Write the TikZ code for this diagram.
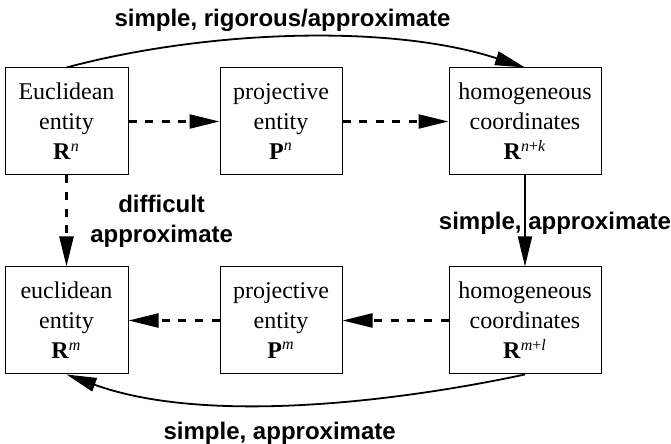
\documentclass[tikz,border=0pt]{standalone}
\usepackage{fontspec}
\setmainfont{Liberation Serif}
\newfontfamily\labelfont{Liberation Sans}
\usepackage{tikz}
\usetikzlibrary{positioning, arrows.meta}

\begin{document}
\begin{tikzpicture}[x=0.5pt, y=0.5pt,
                  box/.style={draw, line width=0.5pt, font=\fontsize{12}{15}\selectfont,
                              align=center, minimum height=53.5pt, inner sep=2pt},
                  lbl/.style={font=\labelfont\bfseries\fontsize{12}{15}\selectfont, align=center},
                  arr/.style={-{Triangle[length=15pt, width=7pt]}, line width=0.9pt},
                  darr/.style={arr, line width=1.1pt, dash pattern=on 4pt off 4.3pt},
                  node distance=45.5pt and 45.5pt,
            ]
            \useasboundingbox (0,0) rectangle (671,444);

            \node[box, minimum width=61.5pt] (euc) at (66.5,322.5) {Euclidean\\entity\\\textbf{R}\textsuperscript{\textit{n}}};
            \node[box, minimum width=61pt, right=of euc] (proj) {projective\\entity\\\textbf{P}\textsuperscript{\textit{n}}};
            \node[box, minimum width=76pt, right=53pt of proj] (hom) {homogeneous\\coordinates\\\textbf{R}\textsuperscript{\textit{n}+\textit{k}}};
            \node[box, minimum width=61.5pt, below=of euc] (euclow) {euclidean\\entity\\\textbf{R}\textsuperscript{\textit{m}}};
            \node[box, minimum width=61pt, below=of proj] (projlow) {projective\\entity\\\textbf{P}\textsuperscript{\textit{m}}};
            \node[box, minimum width=76pt, below=of hom] (homlow) {homogeneous\\coordinates\\\textbf{R}\textsuperscript{\textit{m}+\textit{l}}};

            \draw[darr] (euc) -- (proj);
            \draw[darr] (proj) -- (hom);
            \draw[darr] (homlow) -- (projlow);
            \draw[darr] (projlow) -- (euclow);
            \draw[darr] (euc) -- node[lbl, right=8pt] {difficult\\approximate} (euclow);
            \draw[arr] (hom) -- node[lbl, xshift=15pt, yshift=-1pt] {simple, approximate} (homlow);
            \draw[arr] (euc.north) to[out=15, in=162, looseness=0.8]
                  node[lbl, above=-1pt, xshift=-7pt] {simple, rigorous/approximate} (hom.north);
            \draw[arr] (homlow.south) to[out=192, in=340, looseness=0.8]
                  node[lbl, below=5.5pt, xshift=-7pt] {simple, approximate} (euclow.south);

      \end{tikzpicture}
\end{document}
